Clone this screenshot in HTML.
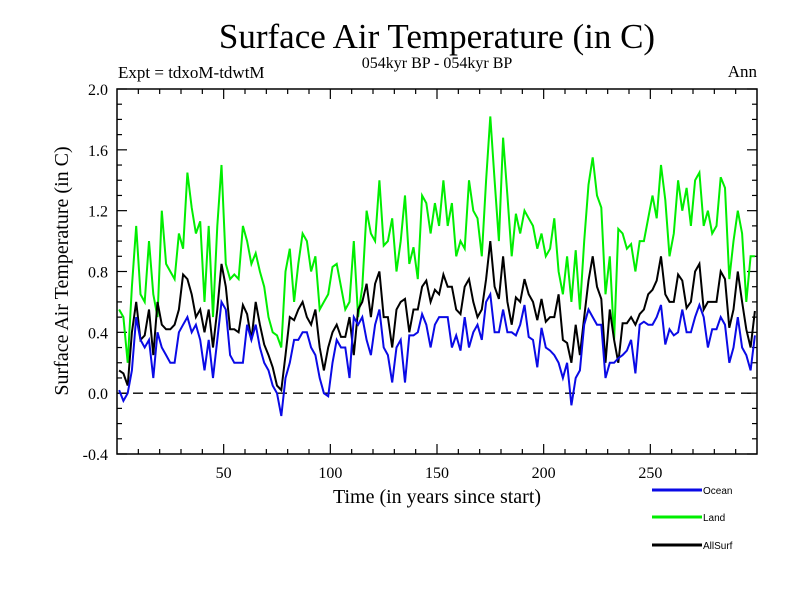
<!DOCTYPE html>
<html><head><meta charset="utf-8"><style>
html,body{margin:0;padding:0;background:#fff;}
svg{display:block;}
.serif{font-family:"Liberation Serif",serif;}
.sans{font-family:"Liberation Sans",sans-serif;}
</style></head><body>
<svg id="chart" width="800" height="600" viewBox="0 0 800 600">
<text class="serif" x="437" y="48" font-size="35" text-anchor="middle">Surface Air Temperature (in C)</text>
<text class="serif" x="437" y="68" font-size="16" text-anchor="middle">054kyr BP - 054kyr BP</text>
<text class="serif" x="118" y="78" font-size="17">Expt = tdxoM-tdwtM</text>
<text class="serif" x="757" y="77" font-size="17" text-anchor="end">Ann</text>
<text class="serif" x="0" y="0" font-size="20" text-anchor="middle" transform="translate(68,271) rotate(-90)">Surface Air Temperature (in C)</text>
<text class="serif" x="437" y="503" font-size="20" text-anchor="middle">Time (in years since start)</text>
<g id="axes"></g>
<g id="series"></g>
<g id="legend"></g>
</svg>
<script>
const years = [1,3,5,7,9,11,13,15,17,19,21,23,25,27,29,31,33,35,37,39,41,43,45,47,49,51,53,55,57,59,61,63,65,67,69,71,73,75,77,79,81,83,85,87,89,91,93,95,97,99,
101,103,105,107,109,111,113,115,117,119,121,123,125,127,129,131,133,135,137,139,141,143,145,147,149,151,153,155,157,159,161,163,165,167,169,171,173,175,177,179,181,183,185,187,189,191,193,195,197,199,
201,203,205,207,209,211,213,215,217,219,221,223,225,227,229,231,233,235,237,239,241,243,245,247,249,251,253,255,257,259,261,263,265,267,269,271,273,275,277,279,281,283,285,287,289,291,293,295,297,299];
const oceanValues = [0.02,-0.05,0.0,0.15,0.5,0.35,0.3,0.35,0.1,0.4,0.3,0.25,0.2,0.2,0.4,0.45,0.5,0.4,0.45,0.35,0.15,0.35,0.1,0.35,0.6,0.55,0.25,0.2,0.2,0.2,0.45,0.35,0.45,0.3,0.2,0.15,0.05,0.0,-0.15,0.1,0.2,0.35,0.35,0.4,0.4,0.3,0.25,0.1,0.0,-0.02,
0.2,0.35,0.3,0.3,0.1,0.5,0.45,0.5,0.35,0.25,0.45,0.55,0.3,0.25,0.07,0.3,0.35,0.07,0.38,0.38,0.4,0.52,0.45,0.3,0.45,0.5,0.5,0.5,0.3,0.38,0.28,0.5,0.3,0.4,0.45,0.35,0.6,0.65,0.4,0.4,0.55,0.4,0.4,0.38,0.45,0.58,0.37,0.35,0.17,0.43,
0.3,0.28,0.25,0.2,0.1,0.2,-0.08,0.1,0.15,0.45,0.55,0.5,0.45,0.45,0.1,0.2,0.2,0.23,0.25,0.28,0.35,0.13,0.45,0.47,0.45,0.45,0.5,0.58,0.32,0.42,0.38,0.4,0.55,0.4,0.4,0.5,0.58,0.5,0.3,0.42,0.42,0.5,0.45,0.2,0.3,0.5,0.3,0.25,0.15,0.38];
const landValues = [0.55,0.5,0.2,0.7,1.1,0.65,0.6,1.0,0.65,0.5,1.2,0.85,0.8,0.75,1.05,0.95,1.45,1.22,1.05,1.13,0.6,1.1,0.5,1.1,1.5,0.85,0.75,0.78,0.75,1.1,1.0,0.85,0.92,0.8,0.7,0.5,0.4,0.38,0.3,0.8,0.95,0.6,0.85,1.05,1.0,0.8,0.9,0.55,0.6,0.65,
0.83,0.85,0.7,0.55,0.6,1.0,0.5,0.7,1.2,1.05,1.0,1.4,0.97,1.0,1.15,0.8,1.0,1.3,0.85,0.96,0.75,1.3,1.25,1.05,1.25,1.1,1.4,1.1,1.25,0.9,1.0,0.95,1.4,1.2,1.15,0.9,1.4,1.82,1.4,1.0,1.68,1.3,0.9,1.18,1.05,1.2,1.15,1.1,0.95,1.05,
0.9,0.95,1.15,0.8,0.65,0.9,0.6,0.94,0.55,1.0,1.37,1.55,1.3,1.22,0.65,0.9,0.35,1.08,1.05,0.95,0.98,0.8,1.0,1.0,1.15,1.3,1.15,1.5,1.27,0.9,1.05,1.4,1.2,1.35,1.1,1.4,1.45,1.1,1.2,1.05,1.1,1.42,1.35,0.75,1.0,1.2,1.05,0.6,0.9,0.9];
const allSurfValues = [0.15,0.13,0.05,0.4,0.6,0.35,0.38,0.55,0.25,0.6,0.45,0.42,0.42,0.45,0.55,0.78,0.75,0.65,0.5,0.55,0.4,0.55,0.3,0.55,0.85,0.7,0.42,0.42,0.4,0.58,0.52,0.35,0.6,0.45,0.32,0.25,0.17,0.05,0.02,0.25,0.5,0.48,0.55,0.6,0.5,0.45,0.55,0.3,0.15,0.3,
0.4,0.45,0.37,0.37,0.5,0.25,0.55,0.6,0.72,0.5,0.72,0.8,0.5,0.5,0.3,0.55,0.6,0.62,0.4,0.55,0.55,0.7,0.74,0.6,0.68,0.65,0.78,0.7,0.7,0.55,0.52,0.7,0.75,0.6,0.5,0.55,0.75,1.0,0.7,0.62,0.9,0.6,0.45,0.63,0.6,0.75,0.65,0.6,0.48,0.62,
0.47,0.5,0.5,0.65,0.35,0.33,0.2,0.45,0.25,0.5,0.74,0.9,0.7,0.62,0.2,0.55,0.35,0.2,0.46,0.46,0.5,0.45,0.52,0.55,0.65,0.68,0.74,0.9,0.65,0.6,0.6,0.78,0.74,0.56,0.6,0.8,0.85,0.55,0.6,0.6,0.6,0.8,0.75,0.43,0.55,0.8,0.6,0.42,0.3,0.54];
const yTickLabels = ["-0.4","0.0","0.4","0.8","1.2","1.6","2.0"];
const xTickLabels = ["50","100","150","200","250"];

const X0=117,X1=757,Y0=89,Y1=454;
const xMin=0,xMax=300,yMin=-0.4,yMax=2.0;
const sx=v=>X0+(v-xMin)/(xMax-xMin)*(X1-X0);
const sy=v=>Y1-(v-yMin)/(yMax-yMin)*(Y1-Y0);
const NS="http://www.w3.org/2000/svg";
function mk(tag,attrs,parent){const e=document.createElementNS(NS,tag);for(const k in attrs)e.setAttribute(k,attrs[k]);parent.appendChild(e);return e;}
const axes=document.getElementById('axes');
const zl=mk('line',{x1:X0,x2:X1,y1:sy(0),y2:sy(0),stroke:'#000','stroke-width':1.3,'stroke-dasharray':'10,6'},axes);


for(let v=-0.4;v<=2.001;v+=0.1){
  const y=sy(v); const major=Math.abs(Math.round(v*10)%4)===0; const len=major?10:5;
  const t1=mk('line',{x1:X0,x2:X0+len,y1:y,y2:y,stroke:'#000','stroke-width':1.2},axes);
  
  
  const t2=mk('line',{x1:X1,x2:X1-len,y1:y,y2:y,stroke:'#000','stroke-width':1.2},axes);
  
  
}
yTickLabels.forEach(s=>{
  const t=mk('text',{x:X0-9,y:sy(parseFloat(s))+6,'font-size':16,'text-anchor':'end','class':'serif'},axes);
  t.textContent=s;
  
  
});
for(let v=10;v<300;v+=10){
  const x=sx(v); const len=(v%50===0)?10:5;
  const b=mk('line',{x1:x,x2:x,y1:Y1,y2:Y1-len,stroke:'#000','stroke-width':1.2},axes);
  
  
  const t=mk('line',{x1:x,x2:x,y1:Y0,y2:Y0+len,stroke:'#000','stroke-width':1.2},axes);
  
  
}
xTickLabels.forEach(s=>{
  const t=mk('text',{x:sx(parseFloat(s)),y:478,'font-size':16,'text-anchor':'middle','class':'serif'},axes);
  t.textContent=s;
  
  
});
const frame=mk('rect',{x:X0,y:Y0,width:X1-X0,height:Y1-Y0,fill:'none',stroke:'#000','stroke-width':1.5},axes);



const series=document.getElementById('series');
function drawLine(vals,color,name){
  const pts=years.map((yr,i)=>sx(yr).toFixed(1)+','+sy(vals[i]).toFixed(1)).join(' ');
  const p=mk('polyline',{points:pts,fill:'none',stroke:color,'stroke-width':2,'stroke-linejoin':'miter'},series);
  
  
}
drawLine(landValues,'#00ee00','land-line');
drawLine(allSurfValues,'#000000','allsurf-line');
drawLine(oceanValues,'#0a0ae6','ocean-line');

const legend=document.getElementById('legend');
[['Ocean','#0a0ae6',490],['Land','#00ee00',517],['AllSurf','#000000',545]].forEach(([lab,col,y])=>{
  const g=mk('g',{},legend);
  
  
  mk('line',{x1:652,x2:702,y1:y,y2:y,stroke:col,'stroke-width':3},g);
  const t=mk('text',{x:703,y:y+4,'font-size':10,'class':'sans'},g);
  t.textContent=lab;
});
</script>
</body></html>
